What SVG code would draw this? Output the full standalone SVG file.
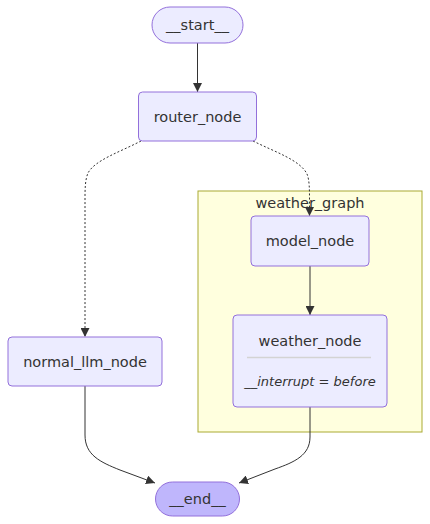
<svg xmlns="http://www.w3.org/2000/svg" width="430" height="524" viewBox="0 0 430 524">
<style>
.node{fill:#ECECFF;stroke:#9370DB;stroke-width:1}
.lbl{font-family:"DejaVu Sans",Verdana,sans-serif;font-size:14.5px;fill:#333;text-anchor:middle;dominant-baseline:central}
.edge{fill:none;stroke:#333;stroke-width:1}
.dot{stroke-dasharray:2 2}
</style>
<defs>
<marker id="arr" viewBox="0 0 10 10" refX="10" refY="5" markerWidth="9" markerHeight="9" markerUnits="userSpaceOnUse" orient="auto">
<path d="M0,0 L10,5 L0,10 z" fill="#333"/>
</marker>
</defs>
<rect width="430" height="524" fill="#fff"/>
<g id="weather_graph">
<rect x="198" y="191" width="224" height="241" fill="#ffffde" stroke="#aaaa33" stroke-width="1"/>
<text class="lbl" x="310" y="203">weather_graph</text>
</g>
<g id="edges">
<path class="edge" d="M197.5,43 L197.5,92" marker-end="url(#arr)"/>
<path class="edge dot" d="M141,141 C120,152 95,160 88,173 C85,180 85,190 85,200 L85,337" marker-end="url(#arr)"/>
<path class="edge dot" d="M253,141 C275,152 300,160 307,174 C309.5,180 309.5,190 309.5,200 L309.5,216" marker-end="url(#arr)"/>
<path class="edge" d="M310,266 L310,315" marker-end="url(#arr)"/>
<path class="edge" d="M85,386 L85,435 C85,455 100,462 120,470 L155,483" marker-end="url(#arr)"/>
<path class="edge" d="M310,407 L310,437 C310,455 295,462 275,469 L239,483" marker-end="url(#arr)"/>
</g>
<g id="start">
<rect class="node" x="152" y="7" width="91" height="36" rx="18"/>
<text class="lbl" x="197.5" y="25">__start__</text>
</g>
<g id="router_node">
<rect class="node" x="138.5" y="92" width="118" height="49" rx="4"/>
<text class="lbl" x="197.5" y="116.5">router_node</text>
</g>
<g id="model_node">
<rect class="node" x="251" y="216" width="118" height="50" rx="4"/>
<text class="lbl" x="310" y="241">model_node</text>
</g>
<g id="weather_node">
<rect class="node" x="233" y="315" width="154" height="92" rx="4"/>
<text class="lbl" x="310" y="340.5">weather_node</text>
<line x1="247" y1="357.5" x2="371" y2="357.5" stroke="#d3d3d3" stroke-width="1.5"/>
<text class="lbl" x="310" y="381" font-style="italic" style="font-size:13px">__interrupt = before</text>
</g>
<g id="normal_llm_node">
<rect class="node" x="8" y="337" width="154" height="49" rx="4"/>
<text class="lbl" x="85" y="361.5">normal_llm_node</text>
</g>
<g id="end">
<rect x="155.5" y="482" width="84" height="34" rx="17" fill="#bfb6fc" stroke="#9370DB" stroke-width="1"/>
<text class="lbl" x="197.5" y="499">__end__</text>
</g>
</svg>
